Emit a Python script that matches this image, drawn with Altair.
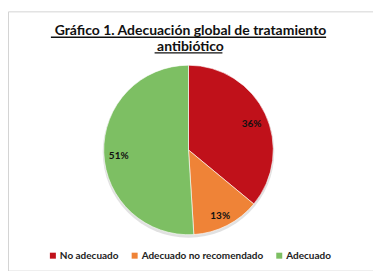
import altair as alt
import pandas as pd

categories = ["No adecuado", "Adecuado no recomendado", "Adecuado"]
values = [36, 13, 51]
labels = ["36%", "13%", "51%"]
colors = ["#C0111A", "#EF8337", "#7DBF63"]
title_lines = ["Gráfico 1. Adecuación global de tratamiento", "antibiótico"]

df = pd.DataFrame({"cat": categories, "val": values, "lab": labels, "idx": [0, 1, 2]})

W, H = 366, 260
CX, CY, R = 181, 139, 85

color = alt.Color(
    "cat:N",
    scale=alt.Scale(domain=categories, range=colors),
    sort=categories,
    legend=alt.Legend(
        title=None, orient="none", direction="horizontal",
        legendX=40, legendY=240, symbolType="square", symbolSize=36,
        labelFont="Lato", labelFontSize=10, labelFontWeight="bold",
        labelColor="#222222", columnPadding=11, symbolStrokeWidth=0,
        labelOffset=2,
    ),
)

base = alt.Chart(df).encode(
    theta=alt.Theta("val:Q", stack=True),
    order=alt.Order("idx:Q"),
)

shadow = alt.Chart(pd.DataFrame({"v": [1]})).mark_arc(
    outerRadius=R + 1, color="#888888", opacity=0.25
).encode(theta=alt.Theta("v:Q"), x=alt.value(CX), y=alt.value(CY + 2))

pie = base.mark_arc(outerRadius=R, stroke="white", strokeWidth=0.6).encode(
    color=color, x=alt.value(CX), y=alt.value(CY)
)

text = base.mark_text(
    radius=70, font="Lato", fontSize=10, fontWeight="bold", color="#111111"
).encode(text="lab:N", x=alt.value(CX), y=alt.value(CY + 4))

def title_line(s, y):
    return alt.Chart(pd.DataFrame({"t": [s]})).mark_text(
        font="Lato", fontSize=14, fontWeight="bold", color="#111111", baseline="alphabetic"
    ).encode(text="t:N", x=alt.value(W / 2), y=alt.value(y))

t1 = title_line(title_lines[0], 23.5)
t2 = title_line(title_lines[1], 39.5)

u1 = alt.Chart(pd.DataFrame({"a": [0]})).mark_rule(color="#111111", strokeWidth=1.4).encode(
    x=alt.value(43), x2=alt.value(319), y=alt.value(26)
)
u2 = alt.Chart(pd.DataFrame({"a": [0]})).mark_rule(color="#111111", strokeWidth=1.4).encode(
    x=alt.value(147), x2=alt.value(215), y=alt.value(41.6)
)

chart = alt.layer(shadow, pie, text, t1, t2, u1, u2).properties(
    width=W, height=H, padding={"left": 0, "top": 3, "right": 0, "bottom": 0},
    autosize=alt.AutoSizeParams(type="none"),
).configure_view(stroke="#D4D4D4", strokeWidth=1).resolve_scale(theta="independent")

chart.save("out.html", embed_options={"renderer": "svg", "actions": False})
